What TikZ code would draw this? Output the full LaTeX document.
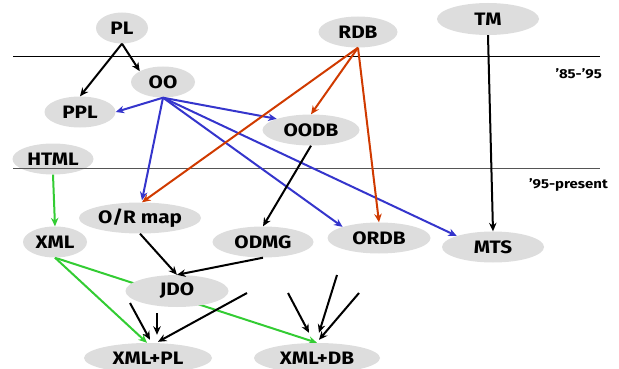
\documentclass[tikz,border=0pt]{standalone}
\usepackage{fontspec}
\setmainfont[FakeStretch=1.15]{Fira Sans}
\usetikzlibrary{shapes.geometric,arrows.meta,backgrounds}
\definecolor{nodegrey}{HTML}{DDDDDD}
\definecolor{arrblue}{HTML}{3535CC}
\definecolor{arrred}{HTML}{D03A00}
\definecolor{arrgreen}{HTML}{33CC33}
\definecolor{sepgrey}{HTML}{555555}
\tikzset{
  ell/.style={ellipse, fill=nodegrey, inner sep=0pt, font=\fontsize{18}{18}\selectfont\bfseries},
  conn/.style={line width=2pt, -{Stealth[length=8.5pt,width=7.5pt]}},
  blk/.style={conn, black},
  blu/.style={conn, arrblue},
  rd/.style={conn, arrred},
  grn/.style={conn, arrgreen},
  era/.style={font=\fontsize{13}{13}\selectfont\bfseries, anchor=east, inner sep=0pt}
}
\begin{document}
\begin{tikzpicture}[x=1pt,y=-1pt]
\useasboundingbox (0,0) rectangle (619,369);
\clip (0,0) rectangle (619,369);
% nodes
\node[ell, minimum width=52pt, minimum height=31pt] (PL) at (122,28) {PL};
\node[ell, minimum width=64pt, minimum height=31pt] (OO) at (163,82) {OO};
\node[ell, minimum width=71pt, minimum height=31pt] (PPL) at (80,112) {PPL};
\node[ell, minimum width=81pt, minimum height=31pt] (HTML) at (53,159) {HTML};
\node[ell, minimum width=97pt, minimum height=31pt] (OODB) at (311,130) {OODB};
\node[ell, minimum width=79pt, minimum height=31pt] (RDB) at (358,32) {RDB};
\node[ell, minimum width=102pt, minimum height=32pt] (TM) at (488,19) {TM};
\node[ell, minimum width=122pt, minimum height=31pt] (ORmap) at (140,218) {O/R map};
\node[ell, minimum width=64pt, minimum height=31pt] (XML) at (55,242) {XML};
\node[ell, minimum width=101pt, minimum height=31pt] (ODMG) at (263,242) {ODMG};
\node[ell, minimum width=103pt, minimum height=32pt] (JDO) at (177,291) {JDO};
\node[ell, minimum width=103pt, minimum height=31pt] (ORDB) at (379,238) {ORDB};
\node[ell, minimum width=102pt, minimum height=31pt] (MTS) at (493,247) {MTS};
\node[ell, minimum width=128pt, minimum height=30pt] (XMLPL) at (148,358) {XML+PL};
\node[ell, minimum width=126pt, minimum height=30pt] (XMLDB) at (317,358) {XML+DB};
% era separators (drawn over the nodes)
\draw[line width=0.8pt, black] (13,56) coordinate (l1a) -- (600,56) coordinate (l1b);
\draw[line width=0.9pt, sepgrey] (13,168) coordinate (l2a) -- (600,168) coordinate (l2b);
\node[era] (e1) at (602,74) {'85-'95};
\node[era] (e2) at (608,185) {'95-present};
% connectors
\draw[blk] (PL.south) -- (PPL.north);
\draw[blk] (PL.south) -- (OO.155);
\draw[blu] (OO.south) -- (PPL.east);
\draw[blu] (OO.south) -- (OODB.162);
\draw[blu] (OO.south) -- ([xshift=2pt,yshift=2pt]ORmap.north);
\draw[blu] (OO.south) -- (ORDB.163);
\draw[blu] (OO.south) -- (MTS.163);
\draw[rd] (RDB.south) -- ([xshift=2pt]ORmap.north);
\draw[rd] (RDB.south) -- (OODB.north);
\draw[rd] (RDB.south) -- (ORDB.north);
\draw[blk] (TM.south) -- (MTS.north);
\draw[grn] (HTML.south) -- (XML.north);
\draw[blk] (OODB.south) -- (ODMG.north);
\draw[blk] (ORmap.south) -- (JDO.north);
\draw[blk] (ODMG.south) -- (JDO.north);
\draw[grn] (XML.south) -- ([xshift=-1pt]XMLPL.north);
\begin{pgfonlayer}{background}
\draw[grn] (XML.south) -- (XMLDB.north);
\end{pgfonlayer}
% free-ended arrows
\coordinate (f1) at (130,303);
\coordinate (f2) at (157,313);
\coordinate (f3) at (247,293);
\coordinate (g1) at (288,293);
\coordinate (g2) at (337,275);
\coordinate (g3) at (359,293);
\draw[blk] (f1) -- ([xshift=2pt,yshift=3pt]XMLPL.north);
\draw[blk] (f2) -- ([xshift=9pt,yshift=8pt]XMLPL.north);
\draw[blk] (f3) -- ([xshift=10pt,yshift=1pt]XMLPL.north);
\draw[blk] (g1) -- ([xshift=-8pt,yshift=10pt]XMLDB.north);
\draw[blk] (g2) -- ([xshift=2pt,yshift=10pt]XMLDB.north);
\draw[blk] (g3) -- ([xshift=2pt,yshift=3pt]XMLDB.north);
\end{tikzpicture}
\end{document}
